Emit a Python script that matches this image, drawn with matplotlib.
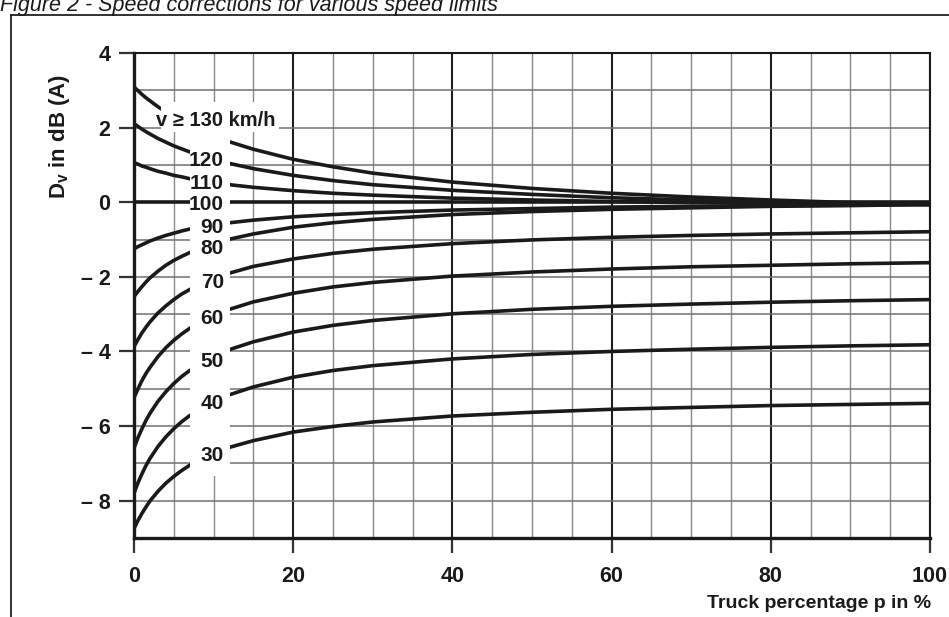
import matplotlib
matplotlib.use("Agg")
import matplotlib.pyplot as plt
from matplotlib.patches import Rectangle
from matplotlib.lines import Line2D

plt.rcParams['font.family'] = ['Liberation Sans', 'DejaVu Sans']
plt.rcParams['mathtext.fontset'] = 'custom'
plt.rcParams['mathtext.rm'] = 'Liberation Sans'
plt.rcParams['mathtext.bf'] = 'Liberation Sans:bold'

# ---------------- data ----------------
truck_pct = [0, 0.5, 1, 1.5, 2, 3, 4, 5, 6, 7, 10, 12, 15, 20, 25, 30,
             40, 50, 60, 70, 80, 90, 100]

dv_130 = [3.09, 2.99, 2.89, 2.80, 2.72, 2.56, 2.42, 2.29, 2.17, 2.06, 1.77, 1.62,
          1.42, 1.15, 0.95, 0.78, 0.54, 0.37, 0.24, 0.14, 0.06, -0.01, -0.06]
dv_120 = [2.11, 2.03, 1.96, 1.89, 1.83, 1.71, 1.61, 1.51, 1.43, 1.35, 1.15, 1.04,
          0.90, 0.72, 0.58, 0.47, 0.32, 0.21, 0.12, 0.06, 0.01, -0.03, -0.06]
dv_110 = [1.06, 1.02, 0.97, 0.94, 0.90, 0.83, 0.78, 0.72, 0.68, 0.63, 0.53, 0.47,
          0.40, 0.31, 0.24, 0.19, 0.11, 0.06, 0.02, -0.01, -0.03, -0.05, -0.06]
dv_100 = [0.00, 0.00, 0.00, 0.00, 0.00, 0.00, 0.00, 0.00, 0.00, 0.00, 0.00, 0.00,
          0.00, 0.00, 0.00, 0.00, 0.00, 0.00, 0.00, 0.00, 0.00, 0.00, 0.00]
dv_90 = [-1.25, -1.19, -1.14, -1.09, -1.04, -0.96, -0.89, -0.83, -0.77, -0.72, -0.61, -0.55,
         -0.48, -0.39, -0.33, -0.28, -0.21, -0.17, -0.13, -0.11, -0.09, -0.08, -0.06]
dv_80 = [-2.53, -2.39, -2.26, -2.14, -2.03, -1.85, -1.69, -1.56, -1.45, -1.35, -1.11, -0.99,
         -0.85, -0.67, -0.55, -0.46, -0.33, -0.25, -0.19, -0.15, -0.11, -0.09, -0.06]
dv_70 = [-3.87, -3.68, -3.50, -3.35, -3.21, -2.97, -2.78, -2.61, -2.46, -2.34, -2.05, -1.90,
         -1.72, -1.52, -1.37, -1.26, -1.11, -1.01, -0.94, -0.89, -0.85, -0.82, -0.79]
dv_60 = [-5.24, -5.00, -4.78, -4.59, -4.43, -4.14, -3.90, -3.70, -3.53, -3.38, -3.04, -2.87,
         -2.67, -2.44, -2.27, -2.15, -1.98, -1.87, -1.79, -1.73, -1.69, -1.65, -1.62]
dv_50 = [-6.59, -6.31, -6.07, -5.85, -5.66, -5.34, -5.08, -4.86, -4.67, -4.51, -4.14, -3.95,
         -3.74, -3.48, -3.30, -3.17, -2.99, -2.87, -2.79, -2.73, -2.68, -2.64, -2.61]
dv_40 = [-7.80, -7.52, -7.28, -7.06, -6.87, -6.55, -6.29, -6.07, -5.88, -5.72, -5.35, -5.16,
         -4.95, -4.69, -4.51, -4.38, -4.20, -4.08, -4.00, -3.94, -3.89, -3.85, -3.82]
dv_30 = [-8.75, -8.53, -8.34, -8.17, -8.01, -7.75, -7.53, -7.35, -7.19, -7.05, -6.73, -6.57,
         -6.39, -6.16, -6.01, -5.89, -5.73, -5.63, -5.55, -5.50, -5.45, -5.42, -5.39]

series = [dv_130, dv_120, dv_110, dv_100, dv_90, dv_80, dv_70, dv_60, dv_50, dv_40, dv_30]
curve_labels = ["120", "110", "100", "90", "80", "70", "60", "50", "40", "30"]
label_y = [1.13, 0.49, -0.05, -0.67, -1.23, -2.14, -3.12, -4.26, -5.40, -6.78]
top_label = "v \u2265 130 km/h"

x_ticks = [0, 20, 40, 60, 80, 100]
y_ticks = [4, 2, 0, -2, -4, -6, -8]
y_tick_labels = ["4", "2", "0", "\u2013 2", "\u2013 4", "\u2013 6", "\u2013 8"]

# ---------------- figure ----------------
W, H = 949, 617
fig = plt.figure(figsize=(W / 100, H / 100), dpi=100)
fig.patch.set_facecolor('white')
ax = fig.add_axes([134 / W, 1 - 538 / H, (930 - 134) / W, (538 - 53) / H])

ax.set_xlim(0, 100)
ax.set_ylim(-9, 4)
ax.set_xticks(x_ticks)
ax.set_xticks(range(0, 101, 5), minor=True)
ax.set_yticks(y_ticks)
ax.set_yticks(range(-9, 5), minor=True)
ax.set_xticklabels([str(t) for t in x_ticks], fontweight='bold')
ax.set_yticklabels(y_tick_labels, fontweight='bold')

ax.set_axisbelow(True)
ax.grid(which='minor', axis='x', color='#8a8a8a', lw=1.0)
ax.grid(which='major', axis='x', color='#1e1e1e', lw=1.5)
ax.grid(which='both', axis='y', color='#707070', lw=1.1)

ax.tick_params(which='major', direction='out', length=11, width=1.6,
               color='#333333', labelsize=15.5, labelcolor='#1a1a1a')
ax.tick_params(axis='y', which='major', pad=6)
ax.tick_params(axis='x', which='major', pad=9)
ax.tick_params(which='minor', length=0)

for name, sp in ax.spines.items():
    sp.set_zorder(6)
    sp.set_color('#1a1a1a')
ax.spines['left'].set_linewidth(2.4)
ax.spines['bottom'].set_linewidth(2.4)
ax.spines['top'].set_linewidth(1.5)
ax.spines['right'].set_linewidth(1.5)

for vals in series:
    ax.plot(truck_pct, vals, color='#1a1a1a', lw=2.6, solid_capstyle='butt', zorder=2)

# white label column (hides grid and curves as in the original)
ax.add_patch(Rectangle((7.0, -7.35), 5.1, 9.3, facecolor='white',
                       edgecolor='none', zorder=3))
ax.add_patch(Rectangle((3.4, 1.88), 14.8, 0.8, facecolor='white',
                       edgecolor='none', zorder=3))

for lab, yv in zip(curve_labels, label_y):
    ax.text(11.3, yv, lab, ha='right', va='center', fontsize=15,
            fontweight='bold', color='#1a1a1a', zorder=4)
ax.text(10.3, 2.2, top_label, ha='center', va='center', fontsize=14.5,
        fontweight='bold', color='#1a1a1a', zorder=4)

# axis titles
fig.text(931 / W, 1 - 604 / H, "Truck percentage p in %", ha='right', va='center',
         fontsize=14, fontweight='bold', color='#1a1a1a')
fig.text(60 / W, 1 - 136 / H, r"D$_\mathbf{v}$ in dB (A)", rotation=90,
         ha='center', va='center', fontsize=16, fontweight='bold', color='#1a1a1a')

# caption (cut at top) and frame
fig.text(0.0, 1 - 11 / H, "Figure 2 - Speed corrections for various speed limits",
         ha='left', va='baseline', fontsize=15.5, style='italic', color='#1a1a1a')
fig.add_artist(Line2D([11 / W, 11 / W], [0, 1 - 15 / H], transform=fig.transFigure,
                      color='#222222', lw=1.3))
fig.add_artist(Line2D([11 / W, 1], [1 - 15 / H, 1 - 15 / H], transform=fig.transFigure,
                      color='#222222', lw=1.3))

fig.savefig("out.png", dpi=100, facecolor='white')
